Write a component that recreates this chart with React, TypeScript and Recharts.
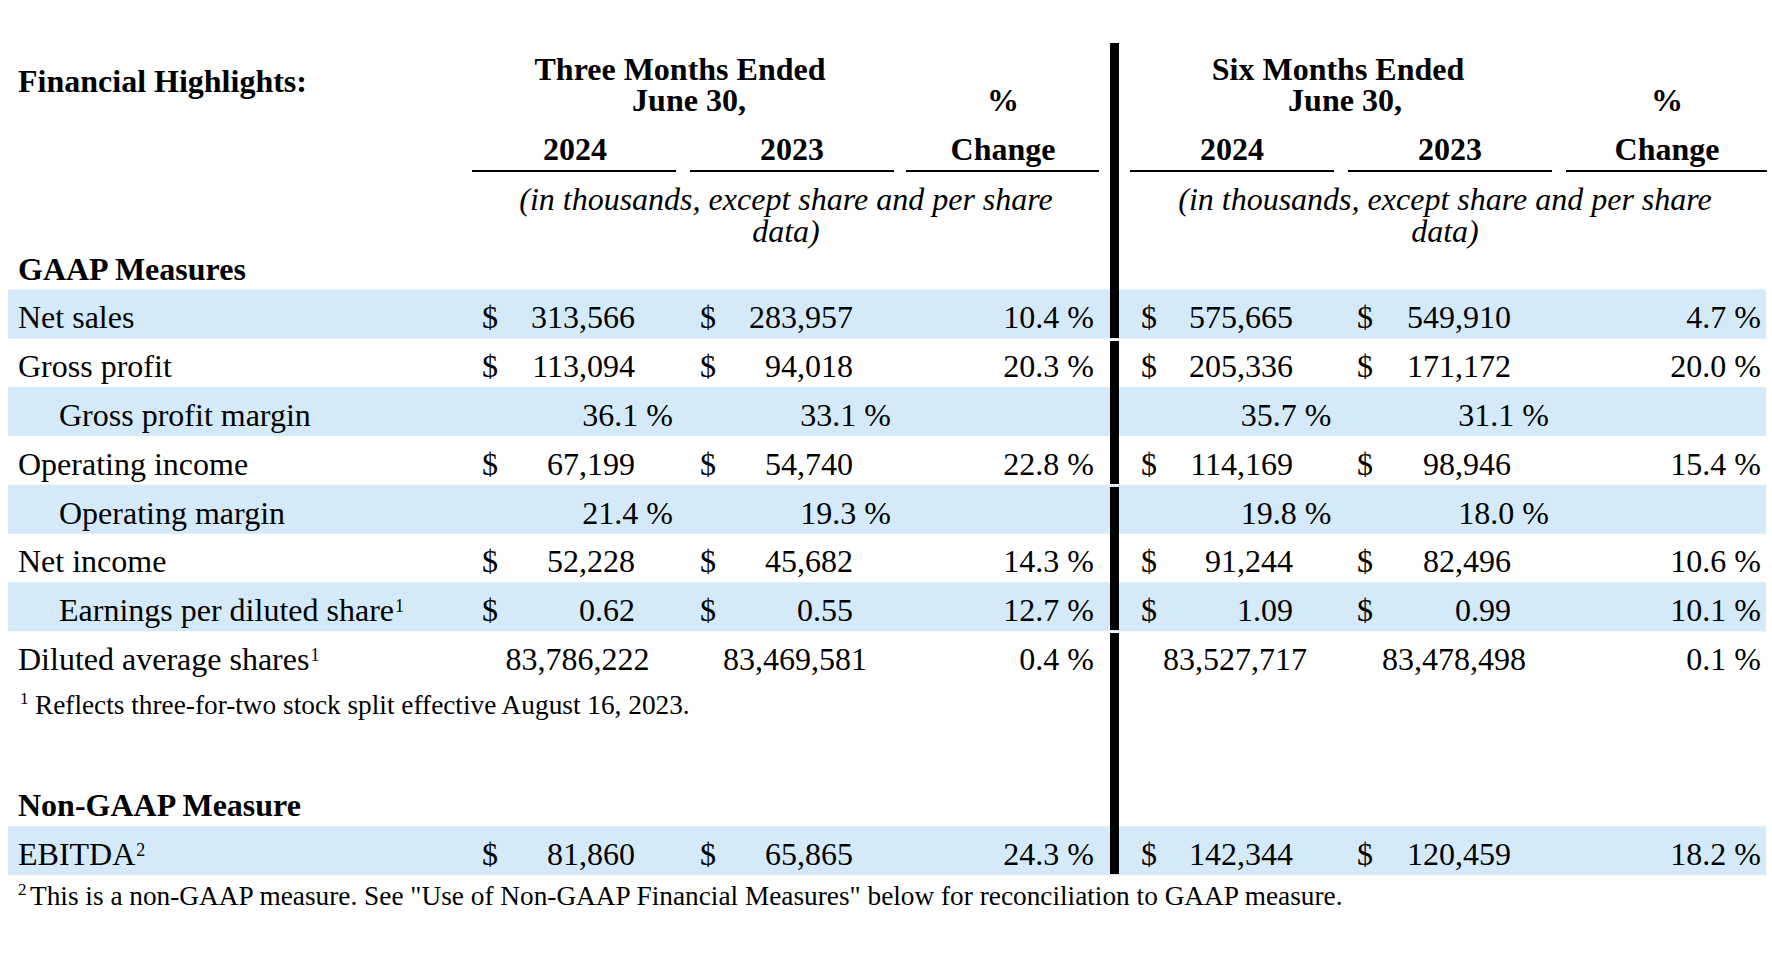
import React from 'react';
import { ComposedChart, Bar, XAxis, YAxis, Customized } from 'recharts';

// table rows, top to bottom (GAAP heading through the second footnote)
const rowLabels = [
  'GAAP Measures',
  'Net sales',
  'Gross profit',
  'Gross profit margin',
  'Operating income',
  'Operating margin',
  'Net income',
  'Earnings per diluted share',
  'Diluted average shares',
  'Reflects three-for-two stock split effective August 16, 2023.',
  '',
  'Non-GAAP Measure',
  'EBITDA',
  'This is a non-GAAP measure. See "Use of Non-GAAP Financial Measures" below for reconciliation to GAAP measure.',
];
const rowKinds = ['heading', 'money', 'money', 'margin', 'money', 'margin', 'money', 'eps', 'shares', 'note', 'blank', 'heading', 'money', 'note'];
const indentedRows = ['Gross profit margin', 'Operating margin', 'Earnings per diluted share'];
const footnoteMarks = ['', '', '', '', '', '', '', '1', '1', '1', '', '', '2', '2'];
const shadedRows = [0, 1, 0, 1, 0, 1, 0, 1, 0, 0, 0, 0, 1, 0];

const threeMonths2024 = [null, 313566, 113094, 36.1, 67199, 21.4, 52228, 0.62, 83786222, null, null, null, 81860, null];
const threeMonths2023 = [null, 283957, 94018, 33.1, 54740, 19.3, 45682, 0.55, 83469581, null, null, null, 65865, null];
const threeMonthsChange = [null, 10.4, 20.3, null, 22.8, null, 14.3, 12.7, 0.4, null, null, null, 24.3, null];
const sixMonths2024 = [null, 575665, 205336, 35.7, 114169, 19.8, 91244, 1.09, 83527717, null, null, null, 142344, null];
const sixMonths2023 = [null, 549910, 171172, 31.1, 98946, 18.0, 82496, 0.99, 83478498, null, null, null, 120459, null];
const sixMonthsChange = [null, 4.7, 20.0, null, 15.4, null, 10.6, 10.1, 0.1, null, null, null, 18.2, null];

const tableTitle = 'Financial Highlights:';
const periodTitles = ['Three Months Ended', 'Six Months Ended'];
const periodDate = 'June 30,';
const yearLabels = ['2024', '2023'];
const changeLabels = ['%', 'Change'];
const unitsNote = ['(in thousands, except share and per share', 'data)'];

const W = 1772;
const H = 956;
const FONT = "'Liberation Serif', 'Times New Roman', Times, serif";
const BAND = '#D5EAF8';

// column positions for the two period blocks
const blocks = [
  {
    dollar: [482, 700], value: [635, 853], margin: [673, 891], shares: [649.5, 867], change: 1094,
    title: 680, date: 689, pct: 1003, years: [575, 792],
    rules: [[472, 676], [690, 894], [906, 1099]], note: 786,
  },
  {
    dollar: [1141, 1357], value: [1293, 1511], margin: [1331.5, 1549], shares: [1307, 1526], change: 1761,
    title: 1338, date: 1345, pct: 1667, years: [1232, 1450],
    rules: [[1130, 1334], [1348, 1552], [1566, 1767]], note: 1445,
  },
];

const rows = rowLabels.map((label, i) => ({
  id: `r${i}`,
  label,
  kind: rowKinds[i],
  mark: footnoteMarks[i],
  shade: shadedRows[i],
  periods: [
    [threeMonths2024[i], threeMonths2023[i], threeMonthsChange[i]],
    [sixMonths2024[i], sixMonths2023[i], sixMonthsChange[i]],
  ],
}));

const fmtInt = (v: number) => v.toLocaleString('en-US');
const fmtPct = (v: number) => `${v.toFixed(1)} %`;

const RowTick = (props: any) => {
  const { y, payload } = props;
  const i = typeof payload?.index === 'number' ? payload.index : Number(String(payload?.value).slice(1));
  const row = rows[i];
  if (!row || row.kind === 'blank') return <g />;
  const base = y + 14.5;

  if (row.kind === 'note') {
    const first = row.mark === '1';
    const noteBase = y + (first ? 10 : 6);
    return (
      <g fontFamily={FONT} fill="#000">
        <text x={first ? 20 : 18} y={noteBase - 10} fontSize={17}>{row.mark}</text>
        <text x={first ? 35 : 30} y={noteBase} fontSize={27.3}>{row.label}</text>
      </g>
    );
  }
  if (row.kind === 'heading') {
    return (
      <text x={18} y={base} fontFamily={FONT} fontSize={32} fontWeight="bold" fill="#000">{row.label}</text>
    );
  }

  const cells: React.ReactNode[] = [];
  blocks.forEach((b, bi) => {
    const [cur, prev, chg] = row.periods[bi] as (number | null)[];
    [cur, prev].forEach((v, ci) => {
      if (v == null) return;
      const k = `${bi}-${ci}`;
      if (row.kind === 'money' || row.kind === 'eps') {
        cells.push(<text key={`d${k}`} x={b.dollar[ci]} y={base}>$</text>);
        cells.push(
          <text key={`v${k}`} x={b.value[ci]} y={base} textAnchor="end">
            {row.kind === 'eps' ? v.toFixed(2) : fmtInt(v)}
          </text>
        );
      } else if (row.kind === 'margin') {
        cells.push(<text key={`m${k}`} x={b.margin[ci]} y={base} textAnchor="end">{fmtPct(v)}</text>);
      } else if (row.kind === 'shares') {
        cells.push(<text key={`s${k}`} x={b.shares[ci]} y={base} textAnchor="end">{fmtInt(v)}</text>);
      }
    });
    if (chg != null) {
      cells.push(<text key={`c${bi}`} x={b.change} y={base} textAnchor="end">{fmtPct(chg)}</text>);
    }
  });

  const indent = indentedRows.includes(row.label);
  return (
    <g fontFamily={FONT} fontSize={32} fill="#000">
      <text x={indent ? 59 : 18} y={base}>
        {row.label}
        {row.mark ? <tspan fontSize={18} dx={1} dy={-9}>{row.mark}</tspan> : null}
      </text>
      {cells}
    </g>
  );
};

const HeaderLayer = () => (
  <g fontFamily={FONT} fill="#000">
    <text x={18} y={92} fontSize={32} fontWeight="bold">{tableTitle}</text>
    {blocks.map((b, bi) => (
      <g key={bi}>
        <text x={b.title} y={80} fontSize={32} fontWeight="bold" textAnchor="middle">{periodTitles[bi]}</text>
        <text x={b.date} y={111} fontSize={32} fontWeight="bold" textAnchor="middle">{periodDate}</text>
        <text x={b.pct} y={111} fontSize={32} fontWeight="bold" textAnchor="middle">{changeLabels[0]}</text>
        {yearLabels.map((yl, yi) => (
          <text key={yl} x={b.years[yi]} y={160} fontSize={32} fontWeight="bold" textAnchor="middle">{yl}</text>
        ))}
        <text x={b.pct} y={160} fontSize={32} fontWeight="bold" textAnchor="middle">{changeLabels[1]}</text>
        {b.rules.map(([x1, x2], ri) => (
          <rect key={ri} x={x1} y={170} width={x2 - x1} height={2} fill="#000" />
        ))}
        <text x={b.note} y={210} fontSize={32} fontStyle="italic" textAnchor="middle">{unitsNote[0]}</text>
        <text x={b.note} y={242} fontSize={32} fontStyle="italic" textAnchor="middle">{unitsNote[1]}</text>
      </g>
    ))}
  </g>
);

// thick divider between the two period blocks, drawn above the row bands
const Divider = () => (
  <svg width={W} height={H} style={{ position: 'absolute', left: 0, top: 0, pointerEvents: 'none' }}>
    {[[43, 338], [341, 484], [487, 630], [633, 874]].map(([y1, y2]) => (
      <rect key={y1} x={1110} y={y1} width={9} height={y2 - y1} fill="#000" />
    ))}
  </svg>
);

const App: React.FC = () => (
  <div style={{ position: 'absolute', left: 0, top: 0, width: W, height: H, background: '#fff' }}>
    <ComposedChart
      width={W}
      height={H}
      data={rows}
      layout="vertical"
      margin={{ top: 240.7, right: 6, bottom: 32.2, left: 7 }}
      barCategoryGap={0}
    >
      <XAxis type="number" domain={[0, 1]} hide />
      <YAxis
        type="category"
        dataKey="id"
        width={1}
        axisLine={false}
        tickLine={false}
        interval={0}
        tick={(p: any) => <RowTick {...p} />}
      />
      <Bar dataKey="shade" fill={BAND} isAnimationActive={false} />
      <Customized component={<HeaderLayer />} />
    </ComposedChart>
    <Divider />
  </div>
);

export default App;
